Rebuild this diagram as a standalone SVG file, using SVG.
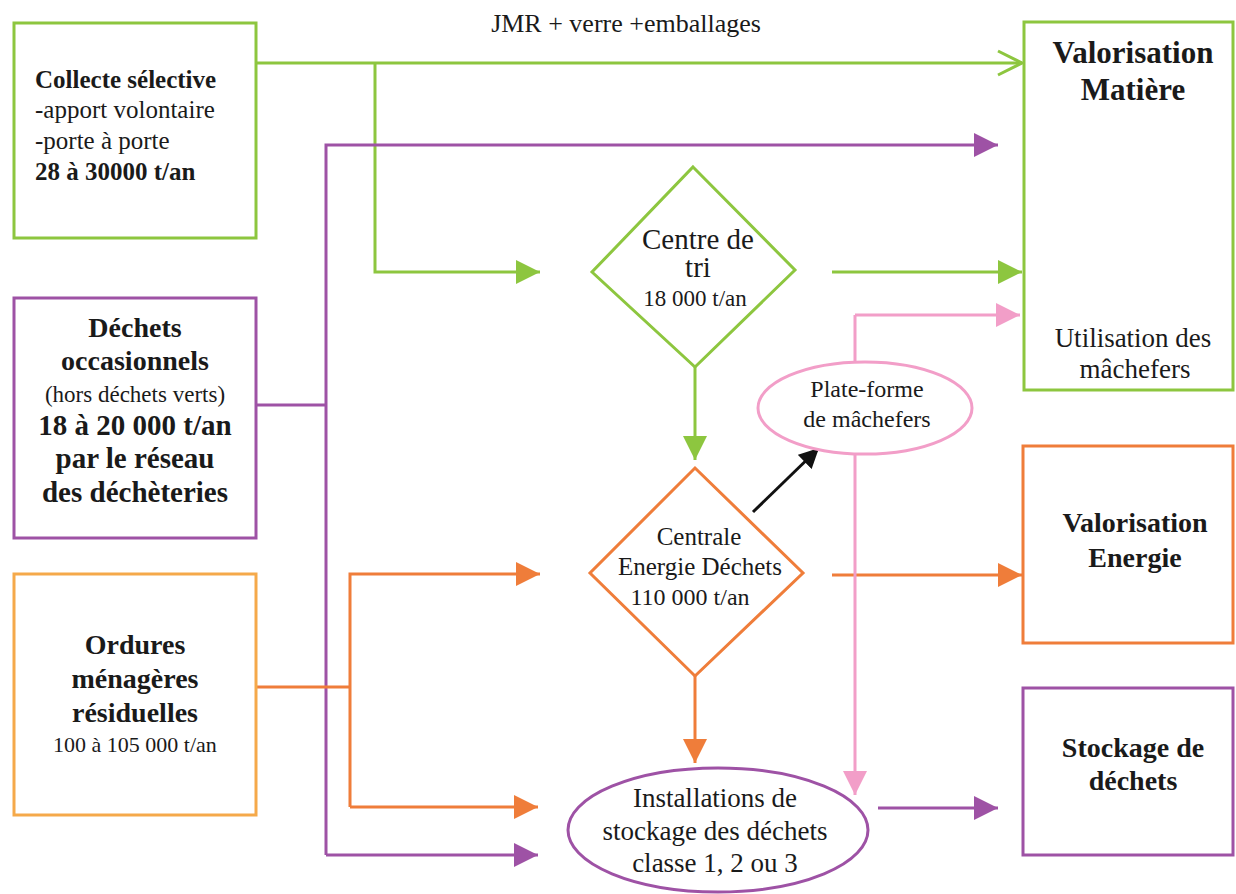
<svg xmlns="http://www.w3.org/2000/svg" width="1236" height="894" viewBox="0 0 1236 894">
<defs>
<marker id="ag" markerUnits="userSpaceOnUse" markerWidth="26" markerHeight="24" refX="24" refY="12" orient="auto"><path d="M0,0 L24,12 L0,24 Z" fill="#8dc63f"/></marker>
<marker id="agOpen" markerUnits="userSpaceOnUse" markerWidth="30" markerHeight="30" refX="26" refY="15" orient="auto"><path d="M2,3 L26,15 L2,27" fill="none" stroke="#8dc63f" stroke-width="3"/></marker>
<marker id="ap" markerUnits="userSpaceOnUse" markerWidth="26" markerHeight="24" refX="24" refY="12" orient="auto"><path d="M0,0 L24,12 L0,24 Z" fill="#9e52a5"/></marker>
<marker id="ao" markerUnits="userSpaceOnUse" markerWidth="26" markerHeight="24" refX="24" refY="12" orient="auto"><path d="M0,0 L24,12 L0,24 Z" fill="#ef7d3a"/></marker>
<marker id="ak" markerUnits="userSpaceOnUse" markerWidth="26" markerHeight="24" refX="24" refY="12" orient="auto"><path d="M0,0 L24,12 L0,24 Z" fill="#f29ec8"/></marker>
<marker id="ab" markerUnits="userSpaceOnUse" markerWidth="22" markerHeight="20" refX="20" refY="10" orient="auto"><path d="M0,0 L20,10 L0,20 Z" fill="#111"/></marker>
</defs>
<rect width="1236" height="894" fill="#fff"/>

<g id="connectors" fill="none" stroke-width="3">
<path stroke="#8dc63f" d="M256,63 H1022" marker-end="url(#agOpen)"/>
<path stroke="#8dc63f" d="M375,63 V272 H540" marker-end="url(#ag)"/>
<path stroke="#8dc63f" d="M832,272 H1022" marker-end="url(#ag)"/>
<path stroke="#8dc63f" d="M695,367 V460" marker-end="url(#ag)"/>
<path stroke="#9e52a5" d="M256,405 H326"/>
<path stroke="#9e52a5" d="M326,855 V145 H998" marker-end="url(#ap)"/>
<path stroke="#9e52a5" d="M326,855 H538" marker-end="url(#ap)"/>
<path stroke="#9e52a5" d="M878,808 H998" marker-end="url(#ap)"/>
<path stroke="#ef7d3a" d="M256,687 H350"/>
<path stroke="#ef7d3a" d="M350,807 V574 H540" marker-end="url(#ao)"/>
<path stroke="#ef7d3a" d="M350,807 H538" marker-end="url(#ao)"/>
<path stroke="#ef7d3a" d="M832,575 H1022" marker-end="url(#ao)"/>
<path stroke="#ef7d3a" d="M695,676 V763" marker-end="url(#ao)"/>
<path stroke="#f29ec8" d="M855,315 H1020" marker-end="url(#ak)"/>
<path stroke="#f29ec8" d="M855,315 V795" marker-end="url(#ak)"/>
<path stroke="#111" d="M753,512 L819,448" marker-end="url(#ab)"/>
<text x="626" y="32" font-size="26" font-family="Liberation Serif" fill="#1a1a1a" stroke="none" text-anchor="middle">JMR + verre +emballages</text>
</g>

<g id="collecte">
<rect x="14" y="23" width="242" height="215" fill="#fff" stroke="#8dc63f" stroke-width="3"/>
<text x="35" y="88" font-size="25" font-family="Liberation Serif" font-weight="bold" fill="#1a1a1a">Collecte sélective</text>
<text x="35" y="118" font-size="25" font-family="Liberation Serif" fill="#1a1a1a">-apport volontaire</text>
<text x="35" y="149" font-size="25" font-family="Liberation Serif" fill="#1a1a1a">-porte à porte</text>
<text x="35" y="180" font-size="25" font-family="Liberation Serif" font-weight="bold" fill="#1a1a1a">28 à 30000 t/an</text>
</g>

<g id="occasionnels">
<rect x="14" y="298" width="242" height="240" fill="#fff" stroke="#9e52a5" stroke-width="3"/>
<text x="135" y="337" font-size="28" font-family="Liberation Serif" font-weight="bold" fill="#1a1a1a" text-anchor="middle">Déchets</text>
<text x="135" y="370" font-size="28" font-family="Liberation Serif" font-weight="bold" fill="#1a1a1a" text-anchor="middle">occasionnels</text>
<text x="135" y="402" font-size="23" font-family="Liberation Serif" fill="#1a1a1a" text-anchor="middle">(hors déchets verts)</text>
<text x="135" y="435" font-size="29" font-family="Liberation Serif" font-weight="bold" fill="#1a1a1a" text-anchor="middle">18 à 20 000 t/an</text>
<text x="135" y="468" font-size="29" font-family="Liberation Serif" font-weight="bold" fill="#1a1a1a" text-anchor="middle">par le réseau</text>
<text x="135" y="502" font-size="29" font-family="Liberation Serif" font-weight="bold" fill="#1a1a1a" text-anchor="middle">des déchèteries</text>
</g>

<g id="ordures">
<rect x="14" y="574" width="242" height="241" fill="#fff" stroke="#f5a94a" stroke-width="3"/>
<text x="135" y="654" font-size="28" font-family="Liberation Serif" font-weight="bold" fill="#1a1a1a" text-anchor="middle">Ordures</text>
<text x="135" y="688" font-size="28" font-family="Liberation Serif" font-weight="bold" fill="#1a1a1a" text-anchor="middle">ménagères</text>
<text x="135" y="722" font-size="28" font-family="Liberation Serif" font-weight="bold" fill="#1a1a1a" text-anchor="middle">résiduelles</text>
<text x="135" y="752" font-size="22" font-family="Liberation Serif" fill="#1a1a1a" text-anchor="middle">100 à 105 000 t/an</text>
</g>

<g id="centre-tri">
<polygon points="693,167 795,270 695,367 592,272" fill="#fff" stroke="#8dc63f" stroke-width="3"/>
<text x="698" y="249" font-size="29" font-family="Liberation Serif" fill="#1a1a1a" text-anchor="middle">Centre de</text>
<text x="698" y="277" font-size="29" font-family="Liberation Serif" fill="#1a1a1a" text-anchor="middle">tri</text>
<text x="695" y="306" font-size="23" font-family="Liberation Serif" fill="#1a1a1a" text-anchor="middle">18 000 t/an</text>
</g>

<g id="centrale">
<polygon points="695,468 803,573 695,676 590,573" fill="#fff" stroke="#ef7d3a" stroke-width="3"/>
<text x="699" y="545" font-size="25" font-family="Liberation Serif" fill="#1a1a1a" text-anchor="middle">Centrale</text>
<text x="700" y="575" font-size="25" font-family="Liberation Serif" fill="#1a1a1a" text-anchor="middle">Energie Déchets</text>
<text x="690" y="605" font-size="24" font-family="Liberation Serif" fill="#1a1a1a" text-anchor="middle">110 000 t/an</text>
</g>

<g id="plateforme">
<ellipse cx="865" cy="408" rx="107" ry="46" fill="#fff" stroke="#f29ec8" stroke-width="3"/>
<text x="867" y="397" font-size="24" font-family="Liberation Serif" fill="#1a1a1a" text-anchor="middle">Plate-forme</text>
<text x="867" y="427" font-size="24" font-family="Liberation Serif" fill="#1a1a1a" text-anchor="middle">de mâchefers</text>
</g>

<g id="installations">
<ellipse cx="718" cy="830" rx="150" ry="62" fill="#fff" stroke="#9e52a5" stroke-width="3"/>
<text x="715" y="807" font-size="27" font-family="Liberation Serif" fill="#1a1a1a" text-anchor="middle">Installations de</text>
<text x="715" y="840" font-size="27" font-family="Liberation Serif" fill="#1a1a1a" text-anchor="middle">stockage des déchets</text>
<text x="715" y="872" font-size="27" font-family="Liberation Serif" fill="#1a1a1a" text-anchor="middle">classe 1, 2 ou 3</text>
</g>

<g id="valorisation-matiere">
<rect x="1024" y="22" width="209" height="368" fill="#fff" stroke="#8dc63f" stroke-width="3"/>
<text x="1133" y="63" font-size="31" font-family="Liberation Serif" font-weight="bold" fill="#1a1a1a" text-anchor="middle">Valorisation</text>
<text x="1133" y="100" font-size="31" font-family="Liberation Serif" font-weight="bold" fill="#1a1a1a" text-anchor="middle">Matière</text>
<text x="1133" y="347" font-size="27" font-family="Liberation Serif" fill="#1a1a1a" text-anchor="middle">Utilisation des</text>
<text x="1135" y="378" font-size="27" font-family="Liberation Serif" fill="#1a1a1a" text-anchor="middle">mâchefers</text>
</g>

<g id="valorisation-energie">
<rect x="1023" y="446" width="210" height="197" fill="#fff" stroke="#ef7d3a" stroke-width="3"/>
<text x="1135" y="532" font-size="28" font-family="Liberation Serif" font-weight="bold" fill="#1a1a1a" text-anchor="middle">Valorisation</text>
<text x="1135" y="567" font-size="28" font-family="Liberation Serif" font-weight="bold" fill="#1a1a1a" text-anchor="middle">Energie</text>
</g>

<g id="stockage">
<rect x="1023" y="688" width="210" height="167" fill="#fff" stroke="#9e52a5" stroke-width="3"/>
<text x="1133" y="757" font-size="28" font-family="Liberation Serif" font-weight="bold" fill="#1a1a1a" text-anchor="middle">Stockage de</text>
<text x="1133" y="790" font-size="28" font-family="Liberation Serif" font-weight="bold" fill="#1a1a1a" text-anchor="middle">déchets</text>
</g>
</svg>
